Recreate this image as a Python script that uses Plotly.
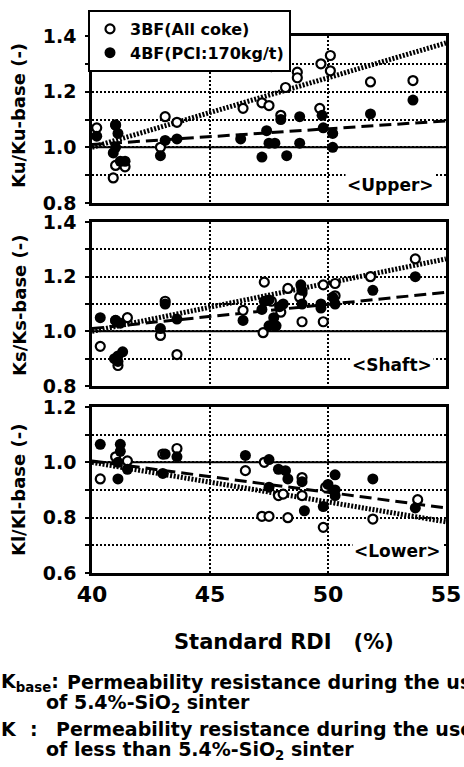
import plotly.graph_objects as go

# ---------------- data ----------------
trend_x = [40, 55]
baseline = 1.0

# Upper
upper_open_x = [40.2, 41.0, 41.0, 40.9, 41.4, 42.9, 43.1, 43.6, 46.4, 47.2, 47.5, 47.6,
                48.7, 48.7, 48.2, 48.0, 49.65, 49.7, 50.1, 50.1, 51.8, 53.6]
upper_open_y = [1.07, 1.08, 0.935, 0.89, 0.93, 1.00, 1.11, 1.09, 1.14, 1.16, 1.15, 1.29,
                1.27, 1.25, 1.215, 1.115, 1.14, 1.30, 1.33, 1.275, 1.235, 1.24]
upper_fill_x = [40.2, 41.0, 41.1, 41.0, 40.9, 41.2, 41.4, 42.9, 43.1, 43.6, 46.3, 47.4,
                47.2, 47.5, 48.0, 48.8, 49.75, 49.8, 50.2, 47.75, 48.8, 50.2, 48.25, 51.8, 53.6]
upper_fill_y = [1.04, 1.08, 1.05, 1.00, 0.98, 0.95, 0.95, 0.97, 1.025, 1.03, 1.03, 1.06,
                0.965, 1.015, 1.10, 1.11, 1.115, 1.07, 1.05, 1.015, 1.015, 1.00, 0.97, 1.12, 1.17]
upper_trend_open = [1.0, 1.375]
upper_trend_fill = [1.01, 1.095]

# Shaft
shaft_open_x = [40.35, 41.0, 41.5, 41.1, 42.9, 43.1, 43.6, 46.4, 47.3, 47.25, 47.6, 48.0,
                48.3, 48.9, 48.8, 49.8, 50.3, 50.3, 48.9, 49.8, 51.8, 53.7]
shaft_open_y = [0.945, 1.04, 1.05, 0.875, 0.985, 1.11, 0.915, 1.077, 1.18, 0.995, 1.11, 1.07,
                1.157, 1.14, 1.125, 1.17, 1.175, 1.13, 1.035, 1.035, 1.20, 1.265]
shaft_fill_x = [40.35, 41.0, 41.2, 40.95, 41.1, 41.3, 41.1, 43.1, 42.9, 43.6, 46.4, 47.2,
                47.3, 47.5, 47.5, 47.95, 48.1, 47.7, 47.8, 48.85, 48.9, 48.9, 49.7, 49.7,
                50.2, 50.3, 51.9, 53.7]
shaft_fill_y = [1.05, 1.04, 1.03, 0.90, 0.91, 0.925, 0.89, 1.10, 1.01, 1.045, 1.04, 1.08,
                1.11, 1.02, 1.115, 1.09, 1.10, 1.05, 1.02, 1.17, 1.15, 1.10, 1.10, 1.085,
                1.125, 1.10, 1.15, 1.20]
shaft_trend_open = [1.0, 1.265]
shaft_trend_fill = [1.01, 1.143]

# Lower
lower_open_x = [40.35, 41.0, 41.5, 43.0, 43.6, 46.5, 47.3, 47.2, 47.9, 48.1, 48.9, 48.9,
                47.5, 48.3, 49.8, 49.9, 51.9, 53.8]
lower_open_y = [0.94, 1.02, 1.005, 1.03, 1.05, 0.97, 1.0, 0.805, 0.88, 0.885, 0.945, 0.88,
                0.805, 0.80, 0.765, 0.91, 0.795, 0.865]
lower_fill_x = [40.35, 41.2, 41.2, 41.1, 41.1, 41.5, 43.0, 43.1, 43.6, 46.5, 47.5, 47.5,
                47.9, 48.2, 48.3, 48.9, 49.0, 49.8, 50.0, 50.3, 50.3, 50.3, 51.9, 53.7]
lower_fill_y = [1.065, 1.065, 1.04, 1.0, 0.94, 0.975, 0.96, 1.03, 1.02, 1.025, 0.91, 1.01,
                0.975, 0.97, 0.94, 0.93, 0.825, 0.84, 0.92, 0.955, 0.90, 0.88, 0.94, 0.835]
lower_trend_open = [1.0, 0.785]
lower_trend_fill = [1.005, 0.835]

series_names = ["3BF(All coke)", "4BF(PCI:170kg/t)"]
x_ticks = [40, 45, 50, 55]
y_titles = ["Ku/Ku-base (-)", "Ks/Ks-base (-)", "Kl/Kl-base (-)"]
panel_labels = ["&lt;Upper&gt;", "&lt;Shaft&gt;", "&lt;Lower&gt;"]
y_ranges = [[0.8, 1.4], [0.8, 1.4], [0.6, 1.2]]
x_title = "Standard RDI&nbsp;&nbsp;&nbsp;(%)"

# ---------------- layout geometry (pixels) ----------------
W, H = 464, 767
FONT = "DejaVu Sans"
X0, X1 = 92, 446
panel_px = [(36, 203), (222, 386), (407, 573)]
title_y_px = [116, 305, 490]
label_px = [(390, 185), (392, 365), (397, 551)]

def fx(p):
    return p / W

def fy(p):
    return 1 - p / H

panels = [
    (upper_open_x, upper_open_y, upper_fill_x, upper_fill_y, upper_trend_open, upper_trend_fill),
    (shaft_open_x, shaft_open_y, shaft_fill_x, shaft_fill_y, shaft_trend_open, shaft_trend_fill),
    (lower_open_x, lower_open_y, lower_fill_x, lower_fill_y, lower_trend_open, lower_trend_fill),
]

fig = go.Figure()
grid_dash = "2px,2px"
shapes = []
annotations = []

for i, (ox, oy, fxv, fyv, t_open, t_fill) in enumerate(panels):
    sfx = "" if i == 0 else str(i + 1)
    xref, yref = "x" + sfx, "y" + sfx
    # trend lines
    fig.add_trace(go.Scatter(x=trend_x, y=t_open, mode="lines", xaxis=xref, yaxis=yref,
                             line=dict(color="black", width=5, dash="2px,1.6px"),
                             showlegend=False, hoverinfo="skip"))
    fig.add_trace(go.Scatter(x=trend_x, y=t_fill, mode="lines", xaxis=xref, yaxis=yref,
                             line=dict(color="black", width=3, dash="12px,6px"),
                             showlegend=False, hoverinfo="skip"))
    # points
    fig.add_trace(go.Scatter(x=ox, y=oy, mode="markers", xaxis=xref, yaxis=yref,
                             name=series_names[0], showlegend=(i == 0),
                             marker=dict(symbol="circle", size=9, color="white",
                                         line=dict(color="black", width=2.2))))
    fig.add_trace(go.Scatter(x=fxv, y=fyv, mode="markers", xaxis=xref, yaxis=yref,
                             name=series_names[1], showlegend=(i == 0),
                             marker=dict(symbol="circle", size=11, color="black",
                                         line=dict(color="black", width=0))))

    top, bot = panel_px[i]
    lo, hi = y_ranges[i]
    fig.update_layout(**{
        "xaxis" + sfx: dict(
            domain=[fx(X0), fx(X1)], range=[40, 55], anchor=yref, automargin=False,
            tickvals=x_ticks, ticktext=[str(v) for v in x_ticks],
            showticklabels=(i == 2), ticks="", ticklabelstandoff=0,
            tickfont=dict(family=FONT, size=22, color="black", weight="bold"),
            showgrid=True, gridcolor="black", gridwidth=1.5, griddash=grid_dash,
            showline=True, linecolor="black", linewidth=2.5, mirror=True,
            zeroline=False, fixedrange=True),
        "yaxis" + sfx: dict(
            domain=[fy(bot), fy(top)], range=[lo, hi], anchor=xref, automargin=False,
            tick0=lo, dtick=0.2, tickformat=".1f",
            ticks="outside", ticklen=4, tickcolor="black", tickwidth=1.5,
            ticklabelstandoff=5,
            tickfont=dict(family=FONT, size=19, color="black", weight="bold"),
            showgrid=True, gridcolor="black", gridwidth=1.5, griddash=grid_dash,
            minor=dict(tick0=lo, dtick=0.1, showgrid=True, gridcolor="black",
                       gridwidth=1.5, griddash=grid_dash, ticks="outside",
                       ticklen=4, tickcolor="black", tickwidth=1.5),
            showline=True, linecolor="black", linewidth=2.5, mirror=True,
            zeroline=False, fixedrange=True),
    })
    # solid reference line at K/Kbase = 1.0
    shapes.append(dict(type="line", xref=xref + " domain", yref=yref,
                       x0=0, x1=1, y0=baseline, y1=baseline, layer="below",
                       line=dict(color="black", width=2)))
    # y-axis title
    annotations.append(dict(text=y_titles[i], xref="paper", yref="paper",
                            x=fx(19), y=fy(title_y_px[i]), textangle=-90,
                            showarrow=False, xanchor="center", yanchor="middle",
                            font=dict(family=FONT, size=18, color="black", weight="bold")))
    # panel label
    lx, ly = label_px[i]
    annotations.append(dict(text=panel_labels[i], xref="paper", yref="paper",
                            x=fx(lx), y=fy(ly), showarrow=False,
                            xanchor="center", yanchor="middle", bgcolor="white",
                            borderpad=1,
                            font=dict(family=FONT, size=17, color="black", weight="bold")))

# x-axis title
annotations.append(dict(text=x_title, xref="paper", yref="paper", x=fx(284), y=fy(642),
                        showarrow=False, xanchor="center", yanchor="middle",
                        font=dict(family=FONT, size=21, color="black", weight="bold")))

# footnotes
note_font = dict(family=FONT, size=19, color="black", weight="bold")
notes = [
    ("K<sub>base</sub>:", 0, 682),
    ("Permeability resistance during the use", 66, 682),
    ("of 5.4%-SiO<sub>2</sub> sinter", 45, 703),
    ("K", 0, 729),
    (":", 29, 729),
    ("Permeability resistance during the use", 55, 729),
    ("of less than 5.4%-SiO<sub>2</sub> sinter", 45, 750),
]
for txt, px, py in notes:
    annotations.append(dict(text=txt, xref="paper", yref="paper", x=fx(px), y=fy(py),
                            showarrow=False, xanchor="left", yanchor="middle",
                            borderpad=0, font=note_font))

fig.update_layout(
    width=W, height=H,
    margin=dict(l=0, r=0, t=0, b=0, autoexpand=False),
    paper_bgcolor="white", plot_bgcolor="white",
    shapes=shapes, annotations=annotations,
    showlegend=True,
    legend=dict(x=fx(88), y=fy(10), xanchor="left", yanchor="top",
                bgcolor="white", bordercolor="black", borderwidth=2,
                font=dict(family=FONT, size=16, color="black", weight="bold"),
                itemwidth=30, tracegroupgap=0),
)

fig.write_html("out.html")
